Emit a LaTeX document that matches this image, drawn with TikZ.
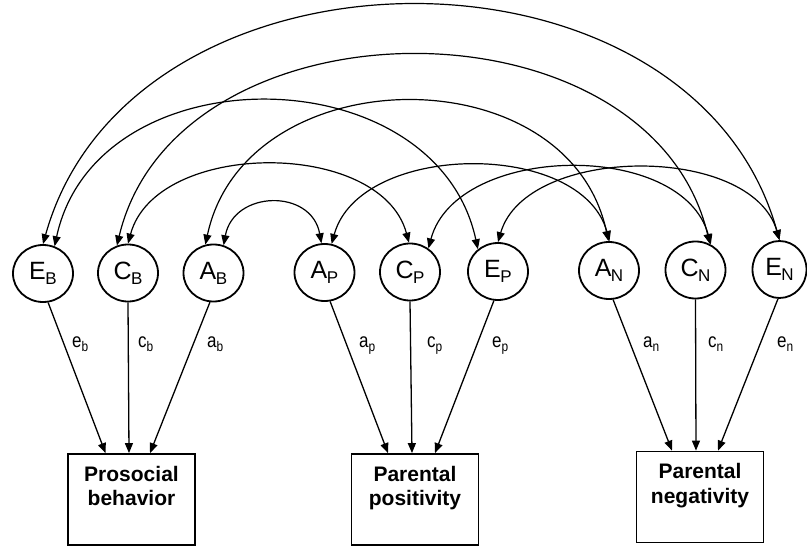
\documentclass[tikz,border=0pt]{standalone}
\usepackage{fontspec}
\setmainfont{Liberation Sans}
\usetikzlibrary{shapes.geometric,arrows.meta,calc}
\newcommand\latname[2]{#1\kern-0.5pt\raisebox{-5pt}{\fontsize{17}{17}\selectfont #2}}
\newcommand\pathlab[2]{\scalebox{0.85}[1]{#1\raisebox{-4.5pt}{\fontsize{14}{14}\selectfont #2}}}
\begin{document}
\begin{tikzpicture}[x=1pt,y=-1pt,
  lat/.style={ellipse, draw, line width=1.8pt, minimum width=60pt, minimum height=57pt, inner sep=0pt, font=\fontsize{25}{25}\selectfont},
  obs/.style={rectangle, draw, line width=1.8pt, minimum width=127pt, minimum height=91pt, inner sep=0pt},
  obstext/.style={anchor=north, inner sep=0pt, align=center, font=\bfseries\fontsize{21}{24.5}\selectfont, yshift=-12.5pt},
  pth/.style={line width=1.3pt, -{Triangle[length=10pt,width=8pt]}},
  cov/.style={line width=1.2pt, {Triangle[length=10pt,width=8pt]}-{Triangle[length=10pt,width=8pt]}},
  lbl/.style={anchor=base west, inner sep=0pt, font=\fontsize{20}{20}\selectfont},
]
\useasboundingbox (0,0) rectangle (807,546);

% latent variables
\node[lat] (EB) at (43,273.5) {\latname{E}{B}};
\node[lat] (CB) at (128,273) {\latname{C}{B}};
\node[lat] (AB) at (213.5,273) {\latname{A}{B}};
\node[lat] (AP) at (324.5,272.5) {\latname{A}{P}};
\node[lat] (CP) at (410,272) {\latname{C}{P}};
\node[lat] (EP) at (498,271.5) {\latname{E}{P}};
\node[lat] (AN) at (609,270.5) {\latname{A}{N}};
\node[lat] (CN) at (695.5,270) {\latname{C}{N}};
\node[lat, minimum width=54pt] (EN) at (779.5,269.5) {\latname{E}{N}};

% observed variables
\node[obs, label={[name=PBt, obstext]north:{Prosocial\\behavior}}] (PB) at (131.5,499.5) {};
\node[obs, label={[name=PPt, obstext]north:{Parental\\positivity}}] (PP) at (415,499.5) {};
\node[obs, label={[name=PNt, obstext]north:{Parental\\negativity}}] (PN) at (700,497) {};

% paths
\draw[pth] (EB.-80) -- ($(PB.north)+(-26,0)$);
\draw[pth] (CB.-90) -- ($(PB.north)+(-2.5,0)$);
\draw[pth] (AB.-97) -- ($(PB.north)+(18.5,0)$);
\draw[pth] (AP.-79) -- ($(PP.north)+(-27,0)$);
\draw[pth] (CP.-90) -- ($(PP.north)+(-3,0)$);
\draw[pth] (EP.-98) -- ($(PP.north)+(20,0)$);
\draw[pth] (AN.-82) -- ($(PN.north)+(-28,0)$);
\draw[pth] (CN.-90) -- ($(PN.north)+(-4,0)$);
\draw[pth] (EN.-93) -- ($(PN.north)+(18,0)$);

% path labels
\node[lbl] (leb) at (72,347) {\pathlab{e}{b}};
\node[lbl] (lcb) at (138,347) {\pathlab{c}{b}};
\node[lbl] (lab) at (207,347) {\pathlab{a}{b}};
\node[lbl] (lap) at (359,347) {\pathlab{a}{p}};
\node[lbl] (lcp) at (427,347) {\pathlab{c}{p}};
\node[lbl] (lep) at (492,347) {\pathlab{e}{p}};
\node[lbl] (lan) at (643,347) {\pathlab{a}{n}};
\node[lbl] (lcn) at (708,347) {\pathlab{c}{n}};
\node[lbl] (len) at (777,347) {\pathlab{e}{n}};

% correlations
\draw[cov] (EB.90) .. controls +(88,-315) and +(-88,-315) .. (EN.90);
\draw[cov] (CB.112) .. controls +(60,-252) and +(-60,-252) .. (CN.61);
\draw[cov] (EB.67) .. controls +(42,-195) and +(-42,-195) .. (EP.132);
\draw[cov] (AB.106) .. controls +(40,-188) and +(-40,-188) .. (AN.91);
\draw[cov] (CB.90) .. controls +(28,-104) and +(-28,-104) .. (CP.92);
\draw[cov] (AB.70) .. controls +(10,-55) and +(-10,-55) .. (AP.96);
\draw[cov] (AP.76) .. controls +(28,-102) and +(-28,-102) .. (AN.89);
\draw[cov] (CP.52) .. controls +(28,-105) and +(-28,-105) .. (CN.59);
\draw[cov] (EP.90) .. controls +(28,-97) and +(-28,-97) .. (EN.90);
\end{tikzpicture}
\end{document}
